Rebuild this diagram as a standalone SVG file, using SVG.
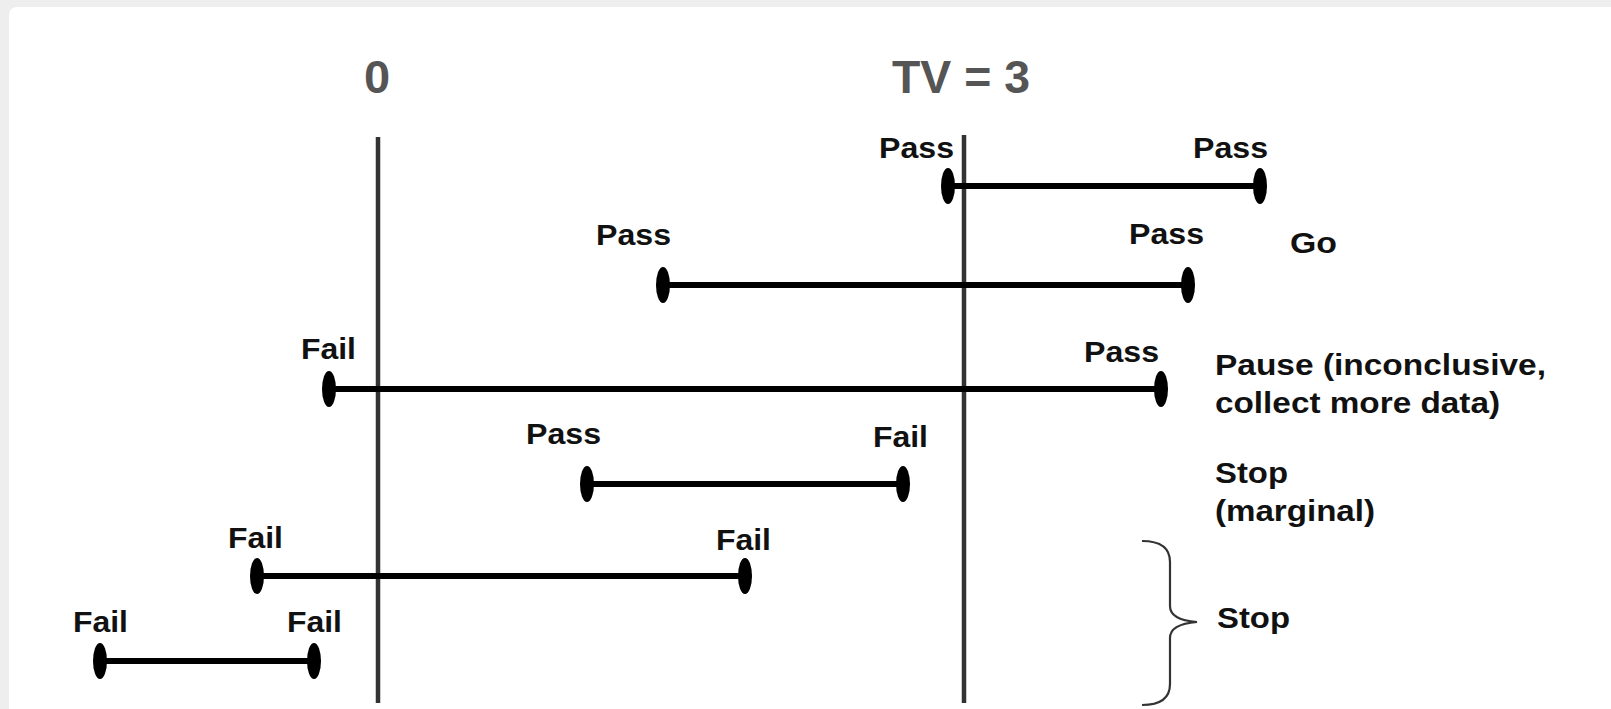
<svg xmlns="http://www.w3.org/2000/svg" width="1611" height="709" viewBox="0 0 1611 709">
  <style>
    .axis { stroke: #333; stroke-width: 4.5; fill: none; }
    .bar { stroke: #000; stroke-width: 6; }
    .cap { fill: #000; }
    .head { font-family: "Liberation Sans", Arial, sans-serif; font-weight: bold; font-size: 47px; fill: #555; }
    .lbl { font-family: "Liberation Sans", Arial, sans-serif; font-weight: bold; font-size: 29px; fill: #111; }
    .brace { stroke: #333; stroke-width: 2.2; fill: none; }
  </style>

  <!-- page backdrop and card -->
  <rect x="0" y="0" width="1611" height="709" fill="#eeeeee"/>
  <rect x="9" y="7" width="1620" height="720" rx="8" fill="#ffffff"/>

  <!-- reference axes -->
  <g id="axis-zero">
    <text class="head" x="377" y="93" text-anchor="middle">0</text>
    <line class="axis" x1="378" y1="137" x2="378" y2="703"/>
  </g>
  <g id="axis-tv">
    <text class="head" x="892" y="93" textLength="138" lengthAdjust="spacingAndGlyphs">TV = 3</text>
    <line class="axis" x1="964" y1="135" x2="964" y2="703"/>
  </g>

  <!-- interval bars with end caps -->
  <g id="connectors">
    <line class="bar" x1="948" y1="186" x2="1260" y2="186"/>
    <line class="bar" x1="663" y1="285" x2="1188" y2="285"/>
    <line class="bar" x1="329" y1="389" x2="1161" y2="389"/>
    <line class="bar" x1="587" y1="484" x2="903" y2="484"/>
    <line class="bar" x1="257" y1="576" x2="745" y2="576"/>
    <line class="bar" x1="100" y1="661" x2="314" y2="661"/>
  </g>

  <g id="interval-1">
    <ellipse class="cap" cx="948" cy="186" rx="7" ry="18"/>
    <ellipse class="cap" cx="1260" cy="186" rx="7" ry="18"/>
    <text class="lbl" x="879" y="158" textLength="75" lengthAdjust="spacingAndGlyphs">Pass</text>
    <text class="lbl" x="1193" y="158" textLength="75" lengthAdjust="spacingAndGlyphs">Pass</text>
  </g>
  <g id="interval-2">
    <ellipse class="cap" cx="663" cy="285" rx="7" ry="18"/>
    <ellipse class="cap" cx="1188" cy="285" rx="7" ry="18"/>
    <text class="lbl" x="596" y="245" textLength="75" lengthAdjust="spacingAndGlyphs">Pass</text>
    <text class="lbl" x="1129" y="244" textLength="75" lengthAdjust="spacingAndGlyphs">Pass</text>
  </g>
  <g id="interval-3">
    <ellipse class="cap" cx="329" cy="389" rx="7" ry="18"/>
    <ellipse class="cap" cx="1161" cy="389" rx="7" ry="18"/>
    <text class="lbl" x="301" y="359" textLength="55" lengthAdjust="spacingAndGlyphs">Fail</text>
    <text class="lbl" x="1084" y="362" textLength="75" lengthAdjust="spacingAndGlyphs">Pass</text>
  </g>
  <g id="interval-4">
    <ellipse class="cap" cx="587" cy="484" rx="7" ry="18"/>
    <ellipse class="cap" cx="903" cy="484" rx="7" ry="18"/>
    <text class="lbl" x="526" y="444" textLength="75" lengthAdjust="spacingAndGlyphs">Pass</text>
    <text class="lbl" x="873" y="447" textLength="55" lengthAdjust="spacingAndGlyphs">Fail</text>
  </g>
  <g id="interval-5">
    <ellipse class="cap" cx="257" cy="576" rx="7" ry="18"/>
    <ellipse class="cap" cx="745" cy="576" rx="7" ry="18"/>
    <text class="lbl" x="228" y="548" textLength="55" lengthAdjust="spacingAndGlyphs">Fail</text>
    <text class="lbl" x="716" y="550" textLength="55" lengthAdjust="spacingAndGlyphs">Fail</text>
  </g>
  <g id="interval-6">
    <ellipse class="cap" cx="100" cy="661" rx="7" ry="18"/>
    <ellipse class="cap" cx="314" cy="661" rx="7" ry="18"/>
    <text class="lbl" x="73" y="632" textLength="55" lengthAdjust="spacingAndGlyphs">Fail</text>
    <text class="lbl" x="287" y="632" textLength="55" lengthAdjust="spacingAndGlyphs">Fail</text>
  </g>

  <!-- outcome notes -->
  <g id="outcome-go">
    <text class="lbl" x="1290" y="253" textLength="47" lengthAdjust="spacingAndGlyphs">Go</text>
  </g>
  <g id="outcome-pause">
    <text class="lbl" x="1215" y="375" textLength="331" lengthAdjust="spacingAndGlyphs">Pause (inconclusive,</text>
    <text class="lbl" x="1215" y="413" textLength="285" lengthAdjust="spacingAndGlyphs">collect more data)</text>
  </g>
  <g id="outcome-marginal">
    <text class="lbl" x="1215" y="483" textLength="73" lengthAdjust="spacingAndGlyphs">Stop</text>
    <text class="lbl" x="1215" y="521" textLength="160" lengthAdjust="spacingAndGlyphs">(marginal)</text>
  </g>
  <g id="outcome-stop">
    <path class="brace" d="M1142,541 Q1170,541 1170,562 L1170,606 Q1170,620 1197,622 Q1170,624 1170,638 L1170,684 Q1170,705 1142,705"/>
    <text class="lbl" x="1217" y="628" textLength="73" lengthAdjust="spacingAndGlyphs">Stop</text>
  </g>
</svg>
